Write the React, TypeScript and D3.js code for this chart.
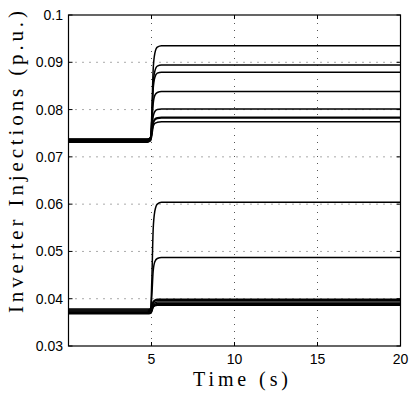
import React from "react";
import * as d3 from "d3";

const times = [0, 4.75, 4.95, 5.02, 5.1, 5.2, 5.35, 5.6, 20];

const series: number[][] = [
  [0.0731, 0.0731, 0.0739, 0.0792, 0.0884, 0.0919, 0.0932, 0.0935, 0.0935],
  [0.0733, 0.0733, 0.0739, 0.0781, 0.0854, 0.0881, 0.0892, 0.0894, 0.0894],
  [0.0736, 0.0736, 0.0742, 0.0779, 0.0843, 0.0868, 0.0877, 0.0879, 0.0879],
  [0.0734, 0.0734, 0.0738, 0.0765, 0.0812, 0.083, 0.0836, 0.0838, 0.0838],
  [0.0738, 0.0738, 0.0741, 0.0757, 0.0785, 0.0796, 0.08, 0.0801, 0.0801],
  [0.0735, 0.0735, 0.0737, 0.075, 0.0772, 0.078, 0.0783, 0.0784, 0.0784],
  [0.0737, 0.0737, 0.0739, 0.0751, 0.0771, 0.0778, 0.0781, 0.0782, 0.0782],
  [0.0732, 0.0732, 0.0734, 0.0745, 0.0764, 0.0771, 0.0773, 0.0774, 0.0774],
  [0.037, 0.037, 0.0379, 0.044, 0.0546, 0.0585, 0.06, 0.0604, 0.0604],
  [0.0372, 0.0372, 0.0377, 0.0407, 0.0458, 0.0478, 0.0485, 0.0487, 0.0487],
  [0.0378, 0.0378, 0.0379, 0.0384, 0.0394, 0.0397, 0.0399, 0.0399, 0.0399],
  [0.0376, 0.0376, 0.0377, 0.0382, 0.0392, 0.0395, 0.0397, 0.0397, 0.0397],
  [0.0374, 0.0374, 0.0375, 0.038, 0.0388, 0.0391, 0.0393, 0.0393, 0.0393],
  [0.0371, 0.0371, 0.0372, 0.0377, 0.0385, 0.0388, 0.039, 0.039, 0.039],
  [0.0369, 0.0369, 0.037, 0.0375, 0.0383, 0.0386, 0.0388, 0.0388, 0.0388],
  [0.0368, 0.0368, 0.0369, 0.0373, 0.0382, 0.0385, 0.0386, 0.0386, 0.0386],
];

const xTicks = [5, 10, 15, 20];
const yTicks = [0.03, 0.04, 0.05, 0.06, 0.07, 0.08, 0.09, 0.1];
const yTickLabels = ["0.03", "0.04", "0.05", "0.06", "0.07", "0.08", "0.09", "0.1"];

const W = 415;
const H = 397;
const L = 68.5;
const R = 400.5;
const T = 15;
const B = 346;

export default function App() {
  const x = d3.scaleLinear().domain([0, 20]).range([L, R]);
  const y = d3.scaleLinear().domain([0.03, 0.1]).range([B, T]);
  const line = d3
    .line<number>()
    .x((_, i) => x(times[i]))
    .y((v) => y(v))
    .curve(d3.curveMonotoneX);

  return (
    <svg
      width={W}
      height={H}
      style={{ position: "absolute", left: 0, top: 0, background: "#fff" }}
    >
      <rect x={0} y={0} width={W} height={H} fill="#fff" />
      {xTicks.slice(0, 3).map((t) => (
        <line
          key={"gx" + t}
          x1={x(t)}
          x2={x(t)}
          y1={B}
          y2={T}
          stroke="#555"
          strokeWidth={1}
          strokeDasharray="1,6"
        />
      ))}
      {yTicks.slice(1, 7).map((t) => (
        <line
          key={"gy" + t}
          x1={L}
          x2={R}
          y1={y(t)}
          y2={y(t)}
          stroke="#555"
          strokeWidth={1}
          strokeDasharray="1,6"
        />
      ))}
      {series.map((s, i) => (
        <path
          key={i}
          d={line(s) || ""}
          fill="none"
          stroke="#000"
          strokeWidth={1.5}
        />
      ))}
      {xTicks.map((t) => (
        <g key={"tx" + t}>
          <line x1={x(t)} x2={x(t)} y1={B} y2={B - 4} stroke="#000" />
          <line x1={x(t)} x2={x(t)} y1={T} y2={T + 4} stroke="#000" />
          <text
            x={x(t)}
            y={364}
            textAnchor="middle"
            fontFamily="Liberation Sans, Arial, sans-serif"
            fontSize={14}
          >
            {t}
          </text>
        </g>
      ))}
      {yTicks.map((t, i) => (
        <g key={"ty" + t}>
          <line x1={L} x2={L + 4} y1={y(t)} y2={y(t)} stroke="#000" />
          <line x1={R} x2={R - 4} y1={y(t)} y2={y(t)} stroke="#000" />
          <text
            x={63}
            y={y(t) + 5}
            textAnchor="end"
            fontFamily="Liberation Sans, Arial, sans-serif"
            fontSize={14}
          >
            {yTickLabels[i]}
          </text>
        </g>
      ))}
      <rect
        x={L}
        y={T}
        width={R - L}
        height={B - T}
        fill="none"
        stroke="#000"
        strokeWidth={1.2}
      />
      <text
        x={(192.7 + 288.3) / 2}
        y={386}
        textAnchor="middle"
        fontFamily="Liberation Serif, serif"
        fontSize={20}
        textLength={95}
        lengthAdjust="spacing"
      >
        Time (s)
      </text>
      <text
        transform={`translate(23,162) rotate(-90)`}
        textAnchor="middle"
        fontFamily="Liberation Serif, serif"
        fontSize={21}
        textLength={302}
        lengthAdjust="spacing"
      >
        Inverter Injections (p.u.)
      </text>
    </svg>
  );
}
